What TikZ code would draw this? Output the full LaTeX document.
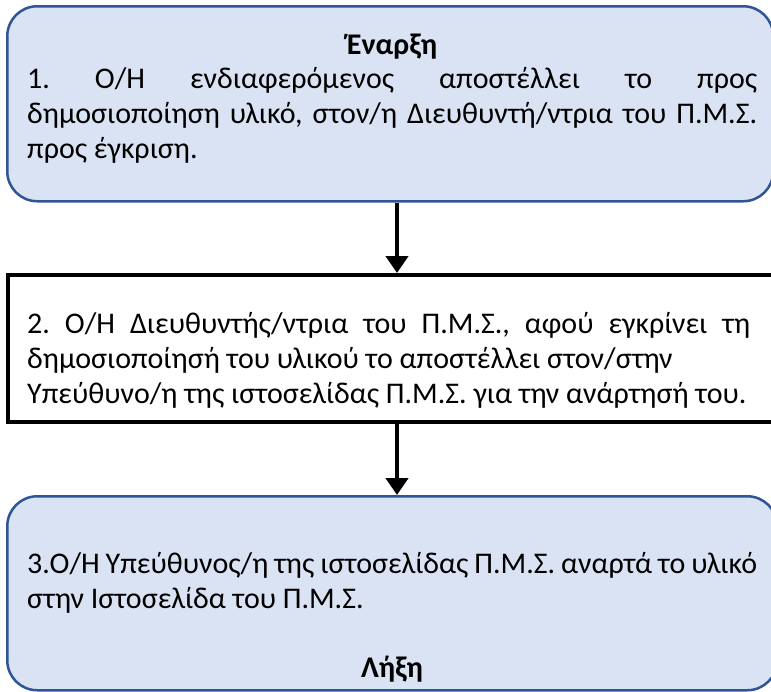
\documentclass[tikz,border=0pt]{standalone}
\usepackage{fontspec}
\setmainfont{Carlito}
\usetikzlibrary{positioning,arrows.meta}
\definecolor{boxfill}{HTML}{DAE3F3}
\definecolor{boxline}{HTML}{2F5597}
\tikzset{
  stepround/.style={draw=boxline, fill=boxfill, line width=2.5pt, rounded corners=30pt, rectangle, inner sep=0pt, anchor=north west},
  stepplain/.style={draw=black, line width=4pt, rectangle, inner sep=0pt, anchor=north west},
  steptext/.style={inner sep=0pt, anchor=base west, align=justify, font=\fontsize{30}{35}\selectfont\frenchspacing},
  steptitle/.style={inner sep=0pt, anchor=base, font=\fontsize{30}{35}\selectfont\bfseries},
  flow/.style={-{Triangle[width=22pt,length=17pt]}, line width=4.5pt}
}
\begin{document}
\begin{tikzpicture}[x=1pt,y=-1pt]
\useasboundingbox (0,0) rectangle (771,691);
\clip (0,0) rectangle (771,691);
% boxes
\node[stepround, minimum width=766pt, minimum height=195pt] (start) at (6,5) {};
\node[stepplain, minimum width=770pt, minimum height=147pt] (approve) at (6,273) {};
\node[stepround, minimum width=770pt, minimum height=194pt] (finish) at (6,495) {};
% texts
\node[steptitle] (starttitle) at (392,54) {Έναρξη};
\node[steptext, text width=730pt] (starttext) at (27,88)
  {1. O/H ενδιαφερόμενος αποστέλλει το προς\linebreak
   δημοσιοποίηση υλικό, στον/η Διευθυντή/ντρια του Π.Μ.Σ.\linebreak
   προς έγκριση.};
\node[steptext, text width=723pt] (approvetext) at (27,333)
  {2. O/H Διευθυντής/ντρια του Π.Μ.Σ., αφού εγκρίνει τη\linebreak
   δημοσιοποίησή του υλικού το αποστέλλει στον/στην\\
   Υπεύθυνο/η της ιστοσελίδας Π.Μ.Σ. για την ανάρτησή του.};
\node[steptext, text width=730pt] (finishtext) at (27,573)
  {3.O/H Υπεύθυνος/η της ιστοσελίδας Π.Μ.Σ. αναρτά το υλικό\linebreak
   στην Ιστοσελίδα του Π.Μ.Σ.};
\node[steptitle] (finishtitle) at (392,677) {Λήξη};
% connectors
\draw[flow] (start.south -| 397,0) -- (approve.north -| 397,0);
\draw[flow] (approve.south -| 397,0) -- (finish.north -| 397,0);
\end{tikzpicture}
\end{document}
